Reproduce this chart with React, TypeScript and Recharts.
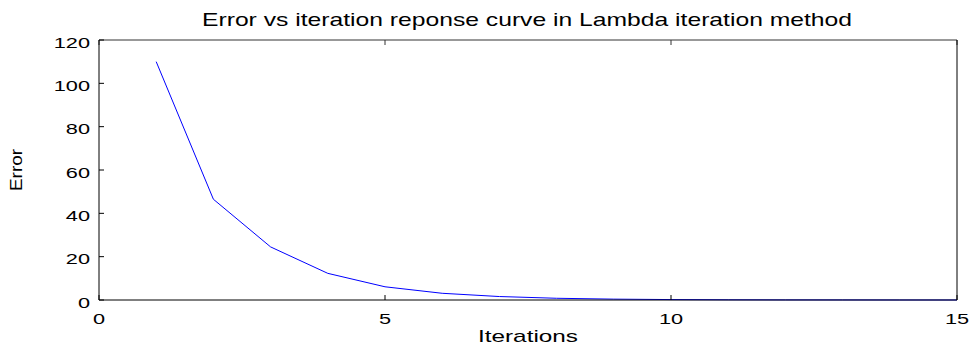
import { LineChart, Line, XAxis, YAxis, Label } from "recharts";

const iterations = [1, 2, 3, 4, 5, 6, 7, 8, 9, 10, 11, 12, 13, 14, 15];
const errors = [110, 46.5, 24.5, 12.3, 6.1, 3.1, 1.6, 0.8, 0.4, 0.2, 0.1, 0.05, 0.03, 0.01, 0.005];
const xTicks = [0, 5, 10, 15];
const yTicks = [0, 20, 40, 60, 80, 100, 120];

const data = iterations.map((it, i) => ({ it, err: errors[i] }));

const font = "'Liberation Sans', Arial, sans-serif";
// the reference image is stretched sideways, so text is widened too
const stretch = 1.45;

function XTick(props: any) {
  const { x, y, payload } = props;
  return (
    <text
      transform={`translate(${x},${y}) scale(${stretch},1)`}
      textAnchor="middle"
      dy="0.71em"
      fontSize={15}
      fontFamily={font}
      fill="#000"
    >
      {payload.value}
    </text>
  );
}

function YTick(props: any) {
  const { x, y, payload } = props;
  return (
    <text
      transform={`translate(${x},${y}) scale(${stretch},1)`}
      textAnchor="end"
      dy="0.5em"
      fontSize={15}
      fontFamily={font}
      fill="#000"
    >
      {payload.value}
    </text>
  );
}

function XTitle(props: any) {
  const { viewBox } = props;
  const cx = viewBox.x + viewBox.width / 2;
  return (
    <text
      x={cx}
      y={342}
      textAnchor="middle"
      fontSize={17}
      fontFamily={font}
      fill="#000"
      textLength={100}
      lengthAdjust="spacingAndGlyphs"
    >
      Iterations
    </text>
  );
}

function YTitle() {
  return (
    <text
      transform="translate(22,170) rotate(-90)"
      textAnchor="middle"
      fontSize={16}
      fontFamily={font}
      fill="#000"
      textLength={42}
      lengthAdjust="spacingAndGlyphs"
    >
      Error
    </text>
  );
}

export default function App() {
  return (
    <div style={{ position: "absolute", left: 0, top: 0, width: 974, height: 347, background: "#fff" }}>
      <svg
        width={974}
        height={32}
        style={{ position: "absolute", left: 0, top: 0 }}
      >
        <text
          x={527}
          y={26}
          textAnchor="middle"
          fontSize={19}
          fontFamily={font}
          fill="#000"
          textLength={650}
          lengthAdjust="spacingAndGlyphs"
        >
          Error vs iteration reponse curve in Lambda iteration method
        </text>
      </svg>
      <LineChart
        width={974}
        height={347}
        data={data}
        margin={{ top: 39, right: 16, bottom: 0, left: 0 }}
      >
        <XAxis
          dataKey="it"
          type="number"
          domain={[0, 15]}
          ticks={xTicks}
          height={47}
          tickSize={-5}
          tickMargin={18}
          tick={<XTick />}
          stroke="#000"
        >
          <Label content={<XTitle />} />
        </XAxis>
        <XAxis
          xAxisId="top"
          dataKey="it"
          type="number"
          orientation="top"
          domain={[0, 15]}
          ticks={xTicks}
          height={1}
          tickSize={-5}
          tickFormatter={() => ""}
          stroke="#333"
        />
        <YAxis
          type="number"
          domain={[0, 120]}
          ticks={yTicks}
          width={99}
          tickSize={-5}
          tickMargin={14}
          tick={<YTick />}
          stroke="#000"
        >
          <Label content={<YTitle />} />
        </YAxis>
        <YAxis
          yAxisId="right"
          orientation="right"
          type="number"
          domain={[0, 120]}
          ticks={yTicks}
          width={1}
          tickSize={-5}
          tickFormatter={() => ""}
          stroke="#000"
        />
        <Line
          dataKey="err"
          type="linear"
          stroke="#0000ff"
          strokeWidth={1}
          dot={false}
          isAnimationActive={false}
        />
      </LineChart>
    </div>
  );
}
